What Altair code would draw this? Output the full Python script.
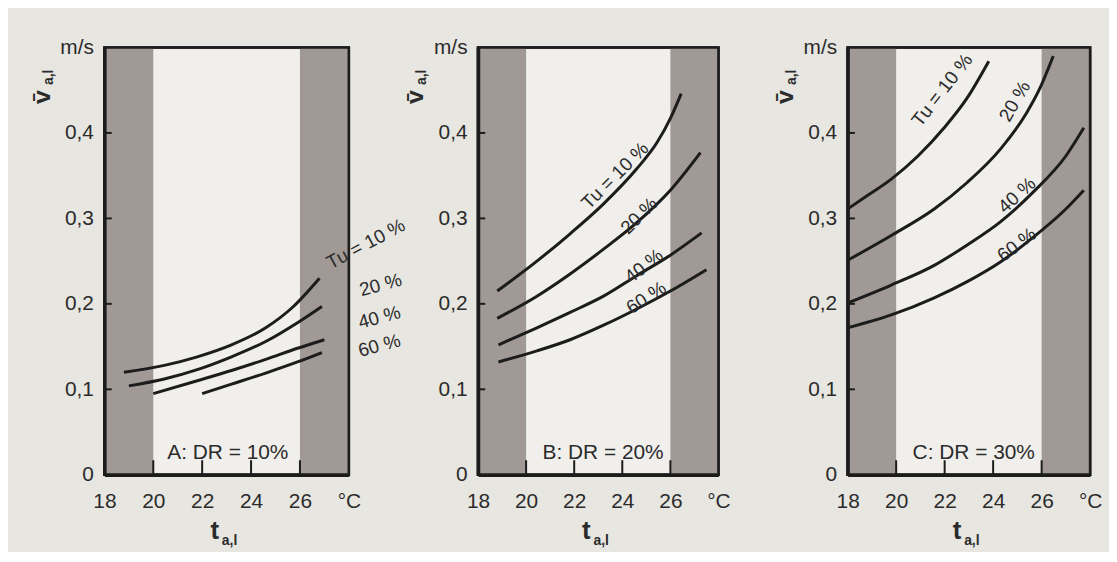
import altair as alt
import pandas as pd

# ---------------- data ----------------
T_MIN, T_MAX = 18, 28
V_MIN, V_MAX = 0.0, 0.5
x_tick_values = [18, 20, 22, 24, 26]
y_tick_values = [0.0, 0.1, 0.2, 0.3, 0.4]
inner_x_ticks = [20, 22, 24, 26]
inner_y_ticks = [0.1, 0.2, 0.3, 0.4]
band_start = [18, 26]
band_end = [20, 28]
tu_names = ["Tu = 10 %", "20 %", "40 %", "60 %"]

# Panel A : DR = 10 %
a_tu10_t = [18.8, 20.45, 21.8, 23.2, 24.6, 25.7, 26.8]
a_tu10_v = [0.120, 0.128, 0.138, 0.152, 0.172, 0.196, 0.230]
a_tu20_t = [19.0, 20.45, 21.8, 23.2, 24.6, 25.9, 26.9]
a_tu20_v = [0.104, 0.112, 0.123, 0.138, 0.156, 0.178, 0.197]
a_tu40_t = [20.0, 21.8, 23.2, 24.6, 25.9, 27.0]
a_tu40_v = [0.095, 0.110, 0.122, 0.135, 0.148, 0.158]
a_tu60_t = [22.0, 23.2, 24.6, 25.9, 26.9]
a_tu60_v = [0.095, 0.106, 0.119, 0.132, 0.143]
a_lab_t = [28.7, 29.3, 29.25, 29.25]
a_lab_v = [0.270, 0.222, 0.184, 0.151]
a_lab_ang = [332, 345, 345, 345]

# Panel B : DR = 20 %
b_tu10_t = [18.8, 20.45, 21.83, 23.22, 24.6, 25.45, 26.0, 26.45]
b_tu10_v = [0.215, 0.250, 0.282, 0.317, 0.358, 0.389, 0.417, 0.446]
b_tu20_t = [18.8, 20.45, 21.83, 23.22, 24.6, 26.0, 27.25]
b_tu20_v = [0.183, 0.209, 0.235, 0.264, 0.295, 0.333, 0.377]
b_tu40_t = [18.85, 20.45, 21.83, 23.22, 24.6, 26.0, 27.3]
b_tu40_v = [0.152, 0.172, 0.190, 0.209, 0.233, 0.257, 0.283]
b_tu60_t = [18.85, 20.45, 21.83, 23.22, 24.6, 26.0, 27.5]
b_tu60_v = [0.132, 0.145, 0.158, 0.175, 0.194, 0.215, 0.240]
b_lab_t = [23.7, 24.7, 24.9, 25.0]
b_lab_v = [0.350, 0.303, 0.244, 0.207]
b_lab_ang = [315, 315, 322, 327]

# Panel C : DR = 30 %
c_tu10_t = [18.0, 18.83, 19.8, 20.9, 21.98, 22.93, 23.82]
c_tu10_v = [0.311, 0.327, 0.346, 0.373, 0.406, 0.441, 0.484]
c_tu20_t = [18.0, 19.8, 21.57, 22.93, 24.3, 25.39, 25.94, 26.48]
c_tu20_v = [0.251, 0.280, 0.311, 0.342, 0.381, 0.424, 0.453, 0.490]
c_tu40_t = [18.0, 19.8, 21.57, 22.93, 24.3, 25.66, 27.0, 27.74]
c_tu40_v = [0.201, 0.222, 0.245, 0.269, 0.296, 0.331, 0.373, 0.406]
c_tu60_t = [18.0, 19.8, 21.57, 22.93, 24.3, 25.66, 27.0, 27.74]
c_tu60_v = [0.172, 0.187, 0.207, 0.226, 0.249, 0.278, 0.311, 0.333]
c_lab_t = [21.9, 24.9, 24.98, 24.98]
c_lab_v = [0.450, 0.437, 0.327, 0.269]
c_lab_ang = [308, 300, 318, 323]

dr_texts = ["A: DR = 10%", "B: DR = 20%", "C: DR = 30%"]
dr_t = [23.05, 23.2, 23.2]
dr_v = [0.025, 0.025, 0.025]

# ---------------- styling ----------------
FONT = "Liberation Sans, Arial, sans-serif"
INK = "#1c1c1c"
TXT = "#2b2b2b"
BAND = "#a09995"
PAPER = "#e7e6e1"
INNER = "#f0efeb"
H = 430
WIDTHS = [246, 242, 244]

xs = alt.Scale(domain=[T_MIN, T_MAX], nice=False, zero=False)
ys = alt.Scale(domain=[V_MIN, V_MAX], nice=False, zero=False)

x_axis = alt.Axis(
    values=x_tick_values + [T_MAX],
    labelExpr="datum.value == 28 ? '°C' : datum.label",
    title=None, ticks=False, grid=False, domain=True, zindex=2,
    domainColor=INK, domainWidth=3.5, labelFont=FONT, labelFontSize=21,
    labelColor=TXT, labelPadding=16, labelFlush=False, labelOverlap=False,
    labelBound=False,
)
y_axis = alt.Axis(
    values=y_tick_values + [V_MAX],
    labelExpr="datum.value > 0.45 ? 'm/s' : (datum.value == 0 ? '0' : replace(format(datum.value, '.1f'), '.', ','))",
    title=None, ticks=False, grid=False, domain=True, zindex=2,
    domainColor=INK, domainWidth=3.5, labelFont=FONT, labelFontSize=21,
    labelColor=TXT, labelPadding=11, labelFlush=False, labelOverlap=False,
    labelBound=False,
)


def X(field):
    return alt.X(field, scale=xs, axis=x_axis, title=None)


def Y(field):
    return alt.Y(field, scale=ys, axis=y_axis, title=None)


def make_panel(curves, lab_t, lab_v, lab_ang, dr_text, drt, drv, W):
    rows = []
    for name, (ts, vs) in zip(tu_names, curves):
        for t, v in zip(ts, vs):
            rows.append({"tu": name, "t": t, "v": v})
    df = pd.DataFrame(rows)

    bands = pd.DataFrame({"t": band_start, "t1": band_end,
                          "v": [V_MIN] * 2, "v1": [V_MAX] * 2})
    band_layer = alt.Chart(bands).mark_rect(color=BAND).encode(
        x=X("t:Q"), x2="t1:Q", y=Y("v:Q"), y2="v1:Q",
    )

    frame = pd.DataFrame({"t": [T_MIN], "t1": [T_MAX], "v": [V_MIN], "v1": [V_MAX]})
    frame_layer = alt.Chart(frame).mark_rect(
        fill=None, fillOpacity=0, stroke=INK, strokeWidth=2.6
    ).encode(x=X("t:Q"), x2="t1:Q", y=Y("v:Q"), y2="v1:Q")

    xt = pd.DataFrame({"t": inner_x_ticks, "v": [0.0] * 4, "v1": [0.017] * 4})
    xtick_layer = alt.Chart(xt).mark_rule(color=INK, strokeWidth=2).encode(
        x=X("t:Q"), y=Y("v:Q"), y2="v1:Q",
    )
    yt = pd.DataFrame({"v": inner_y_ticks, "t": [18.0] * 4, "t1": [18.3] * 4})
    ytick_layer = alt.Chart(yt).mark_rule(color=INK, strokeWidth=2).encode(
        y=Y("v:Q"), x=X("t:Q"), x2="t1:Q",
    )

    lines = alt.Chart(df).mark_line(
        color=INK, strokeWidth=3, interpolate="monotone", strokeCap="butt"
    ).encode(x=X("t:Q"), y=Y("v:Q"), detail="tu:N")

    labs = pd.DataFrame({"txt": tu_names, "t": lab_t, "v": lab_v, "ang": lab_ang})
    lab_layer = alt.Chart(labs).mark_text(
        font=FONT, fontSize=19, color=TXT, align="center", baseline="middle"
    ).encode(
        x=X("t:Q"), y=Y("v:Q"), text="txt:N",
        angle=alt.Angle("ang:Q", scale=None),
    )

    dr = pd.DataFrame({"txt": [dr_text], "t": [drt], "v": [drv]})
    dr_layer = alt.Chart(dr).mark_text(
        font=FONT, fontSize=21, color=TXT, align="center", baseline="middle"
    ).encode(x=X("t:Q"), y=Y("v:Q"), text="txt:N")

    one = pd.DataFrame({"s": ["t"]})
    t_main = alt.Chart(one).mark_text(
        font=FONT, fontSize=26, fontWeight="bold", color=TXT,
        align="center", baseline="middle"
    ).encode(text=alt.value("t"), x=alt.value(W / 2 - 12), y=alt.value(H + 57))
    t_sub = alt.Chart(one).mark_text(
        font=FONT, fontSize=14, fontWeight="bold", color=TXT,
        align="center", baseline="middle"
    ).encode(text=alt.value("a,l"), x=alt.value(W / 2 + 3), y=alt.value(H + 67))

    v_main = alt.Chart(one).mark_text(
        font=FONT, fontSize=25, fontWeight="bold", color=TXT,
        align="center", baseline="middle", angle=270
    ).encode(text=alt.value("v\u0304"), x=alt.value(-63), y=alt.value(50))
    v_sub = alt.Chart(one).mark_text(
        font=FONT, fontSize=14, fontWeight="bold", color=TXT,
        align="center", baseline="middle", angle=270
    ).encode(text=alt.value("a,l"), x=alt.value(-56), y=alt.value(30))

    return alt.layer(
        band_layer, frame_layer, xtick_layer, ytick_layer, lines, lab_layer,
        dr_layer, t_main, t_sub, v_main, v_sub
    ).properties(width=W, height=H)


pa = make_panel(
    [(a_tu10_t, a_tu10_v), (a_tu20_t, a_tu20_v), (a_tu40_t, a_tu40_v), (a_tu60_t, a_tu60_v)],
    a_lab_t, a_lab_v, a_lab_ang, dr_texts[0], dr_t[0], dr_v[0], WIDTHS[0])
pb = make_panel(
    [(b_tu10_t, b_tu10_v), (b_tu20_t, b_tu20_v), (b_tu40_t, b_tu40_v), (b_tu60_t, b_tu60_v)],
    b_lab_t, b_lab_v, b_lab_ang, dr_texts[1], dr_t[1], dr_v[1], WIDTHS[1])
pc = make_panel(
    [(c_tu10_t, c_tu10_v), (c_tu20_t, c_tu20_v), (c_tu40_t, c_tu40_v), (c_tu60_t, c_tu60_v)],
    c_lab_t, c_lab_v, c_lab_ang, dr_texts[2], dr_t[2], dr_v[2], WIDTHS[2])

chart = alt.hconcat(pa, pb, pc, spacing=130, bounds="flush").properties(
    background=PAPER,
    padding={"left": 20, "top": 25, "right": 5, "bottom": 0},
).configure_view(
    stroke=INK, strokeWidth=2.5, fill=INNER
)

chart.save("out.html", embed_options={"renderer": "svg", "actions": False})
